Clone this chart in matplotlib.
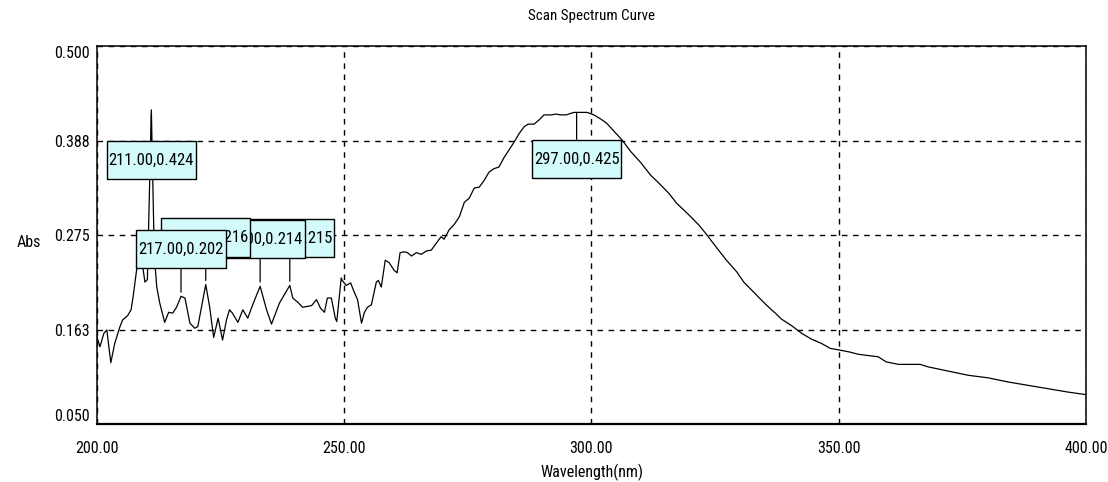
import matplotlib
matplotlib.use("Agg")
import matplotlib.pyplot as plt
from matplotlib import font_manager
from matplotlib.font_manager import FontProperties
from matplotlib.path import Path

# spectrum (nm, Abs)
wavelength = [
    200.0, 200.6, 201.4, 202.0, 202.8, 203.6, 204.6, 205.2, 206.2, 206.9,
    207.3, 208.1, 208.7, 209.2, 209.7, 210.2, 211.0, 211.6, 212.1, 212.7,
    213.7, 214.5, 215.3, 216.1, 217.0, 217.8, 218.8, 219.8, 220.4, 222.0,
    222.8, 223.6, 224.5, 225.4, 226.2, 226.8, 227.4, 228.5, 229.5, 230.5,
    231.3, 233.0, 234.3, 235.3, 236.9, 239.0, 239.6, 240.6, 241.6, 243.4,
    244.4, 245.2, 246.0, 246.6, 247.4, 248.2, 248.5, 249.0, 249.4, 249.6,
    250.4, 251.3, 252.1, 252.7, 253.5, 254.1, 254.7, 255.5, 256.5, 256.9,
    257.5, 258.3, 259.1, 260.1, 260.7, 261.3, 262.2, 262.8, 263.6, 264.6,
    265.6, 266.6, 267.6, 268.6, 269.6, 270.2, 271.2, 272.3, 273.3, 274.3,
    275.3, 276.3, 277.3, 278.3, 279.3, 280.3, 281.3, 282.3, 283.3, 284.4,
    285.4, 286.4, 287.2, 288.4, 289.4, 290.4, 291.8, 292.8, 293.8, 294.9,
    295.9, 296.5, 299.1, 300.5, 301.9, 303.1, 304.5, 306.2, 308.0, 310.0,
    312.0, 313.6, 315.6, 317.2, 319.7, 321.7, 323.1, 325.3, 327.3, 329.4,
    330.8, 332.8, 334.8, 336.4, 337.2, 338.4, 340.5, 342.5, 344.5, 346.5,
    348.3, 349.3, 352.0, 354.0, 358.0, 359.6, 362.1, 366.5, 368.1, 372.2,
    376.2, 380.2, 384.3, 388.3, 392.3, 396.4, 400.0,
]
absorbance = [
    0.154, 0.142, 0.158, 0.162, 0.123, 0.146, 0.165, 0.174, 0.179, 0.186,
    0.201, 0.237, 0.251, 0.240, 0.219, 0.222, 0.424, 0.250, 0.213, 0.194,
    0.171, 0.183, 0.182, 0.189, 0.202, 0.200, 0.170, 0.164, 0.166, 0.216,
    0.189, 0.153, 0.176, 0.150, 0.174, 0.186, 0.182, 0.171, 0.186, 0.176,
    0.189, 0.214, 0.186, 0.169, 0.194, 0.215, 0.200, 0.195, 0.189, 0.191,
    0.198, 0.188, 0.183, 0.200, 0.200, 0.176, 0.172, 0.201, 0.224, 0.221,
    0.215, 0.218, 0.206, 0.198, 0.170, 0.183, 0.189, 0.192, 0.219, 0.221,
    0.213, 0.245, 0.242, 0.233, 0.230, 0.254, 0.255, 0.254, 0.250, 0.254,
    0.252, 0.256, 0.257, 0.265, 0.273, 0.270, 0.281, 0.288, 0.297, 0.314,
    0.319, 0.331, 0.332, 0.340, 0.350, 0.354, 0.356, 0.367, 0.376, 0.386,
    0.396, 0.404, 0.407, 0.407, 0.412, 0.418, 0.418, 0.419, 0.418, 0.418,
    0.420, 0.421, 0.421, 0.418, 0.413, 0.408, 0.399, 0.388, 0.374, 0.361,
    0.346, 0.337, 0.325, 0.313, 0.299, 0.287, 0.277, 0.260, 0.245, 0.231,
    0.219, 0.207, 0.195, 0.186, 0.182, 0.175, 0.167, 0.158, 0.151, 0.146,
    0.140, 0.139, 0.136, 0.133, 0.130, 0.124, 0.121, 0.121, 0.118, 0.113,
    0.108, 0.105, 0.100, 0.096, 0.092, 0.088, 0.085,
]

# picked peaks, in the order the instrument stacks its labels
peak_wl = [211, 239, 233, 222, 217, 297]
peak_abs = [0.424, 0.215, 0.214, 0.216, 0.202, 0.425]
peak_below = [True, False, False, False, False, True]

x_ticks = [200, 250, 300, 350, 400]
y_ticks = [0.050, 0.1625, 0.275, 0.3875, 0.500]
y_ticklabels = ["0.050", "0.163", "0.275", "0.388", "0.500"]

# the instrument font is a tall narrow bitmap face; use a narrow face if there is one
names = {f.name for f in font_manager.fontManager.ttflist}
narrow = [n for n in ("Liberation Sans Narrow", "Roboto Condensed",
                      "Open Sans Condensed", "Noto Sans Condensed") if n in names]
STRETCH = "normal"
if narrow:
    FONT, FS, TFS, AFS = [narrow[0], "DejaVu Sans"], 11.5, 10.8, 12
elif "Condensed" in font_manager.findfont(
        FontProperties(family="DejaVu Sans", stretch="condensed")):
    FONT, FS, TFS, AFS, STRETCH = ["DejaVu Sans"], 9.2, 9.0, 9.6, "condensed"
else:
    FONT, FS, TFS, AFS = ["DejaVu Sans"], 8.6, 8.4, 9.2
plt.rcParams["font.family"] = FONT
plt.rcParams["font.stretch"] = STRETCH


def label_box(x0, y0, width, height, mutation_size):
    # flat wide box like the instrument software: little side pad, tall top/bottom
    px, py = 0.12 * mutation_size, 0.7 * mutation_size
    return Path([(x0 - px, y0 - py), (x0 + width + px, y0 - py),
                 (x0 + width + px, y0 + height + py), (x0 - px, y0 + height + py),
                 (x0 - px, y0 - py)], closed=True)


fig = plt.figure(figsize=(11.08, 4.82), dpi=100)
ax = fig.add_axes([0.0875, 0.1203, 0.8926, 0.7842])
ax.plot(wavelength, absorbance, color="black", lw=0.9, zorder=3)

ax.set_xlim(200, 400)
ax.set_ylim(0.05, 0.5)
ax.set_xticks(x_ticks)
ax.set_xticklabels([f"{v:.2f}" for v in x_ticks])
ax.set_yticks(y_ticks)
ax.set_yticklabels(y_ticklabels)
ax.tick_params(length=0, labelsize=FS, colors="black")
ax.tick_params(axis="x", pad=12)
ax.tick_params(axis="y", pad=5)
ax.get_yticklabels()[0].set_va("bottom")
ax.get_yticklabels()[-1].set_va("top")
ax.grid(True, color="black", lw=1, linestyle=(0, (4, 4)), zorder=1)
for side, s in ax.spines.items():
    s.set_color("black")
    s.set_linewidth(1.6 if side == "bottom" else 1.1)

for wl, val, below in zip(peak_wl, peak_abs, peak_below):
    dy = -36 if below else 34
    ax.annotate(f"{wl:.2f},{val:.3f}", xy=(wl, val), xytext=(0, dy),
                textcoords="offset points", ha="center", va="center",
                fontsize=AFS, zorder=5,
                bbox=dict(boxstyle=label_box, fc="#d4fbfb", ec="black", lw=1),
                arrowprops=dict(arrowstyle="-", color="black", lw=0.9,
                                shrinkA=0, shrinkB=3))

ax.set_title("Scan Spectrum Curve", fontsize=TFS, pad=19)
ax.set_xlabel("Wavelength(nm)", fontsize=FS, labelpad=6)
ax.set_ylabel("Abs", fontsize=FS, rotation=0, va="center", ha="center")
ax.yaxis.set_label_coords(-0.069, 0.481)

fig.savefig("out.png", dpi=100)
